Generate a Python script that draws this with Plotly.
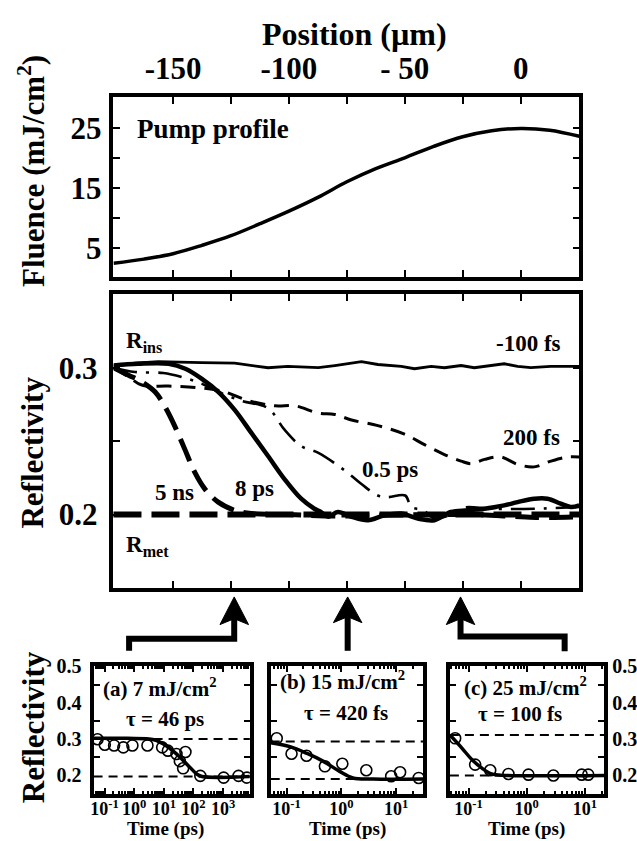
import math
import plotly.graph_objects as go

W, H = 637, 841
FONT = "Liberation Serif"

# ---------------- data ----------------
# top panel: pump profile
pos_pump = [-175.7, -162.5, -150, -137.5, -125, -112.5, -100, -87.5, -75, -62.5,
            -50, -37.5, -25, -12.5, 0, 12.5, 25.3]
fluence = [2.4, 3.1, 4.0, 5.4, 7.0, 9.0, 11.1, 13.4, 16.0, 18.2,
           20.0, 21.9, 23.5, 24.5, 24.9, 24.6, 23.6]

# middle panel: reflectivity profiles at several delays
pos_m100fs = [-175.7, -166.4, -156.4, -149.2, -137.7, -123.4, -109.0, -100.5, -87.3, -80.2,
              -73.0, -68.7, -61.6, -51.5, -45.8, -38.6, -32.9, -25.7, -20.0, -12.8,
              -7.1, -1.3, 4.4, 13.0, 25.3]
R_m100fs = [0.3010, 0.3031, 0.3042, 0.3038, 0.3035, 0.3031, 0.3000, 0.3009, 0.3000, 0.3015,
            0.3031, 0.3042, 0.3022, 0.3009, 0.2993, 0.3009, 0.3000, 0.3015, 0.3000, 0.3015,
            0.3027, 0.3009, 0.3000, 0.3009, 0.3009]

pos_200fs = [-175.7, -169.2, -163.5, -152.0, -140.5, -129.0, -117.6, -106.0, -97.4, -87.5,
             -80.2, -73.0, -61.6, -50.1, -41.5, -32.9, -25.7, -21.4, -15.6, -8.5,
             -1.3, 5.9, 13.0, 20.2, 25.3]
R_200fs = [0.3000, 0.2938, 0.2882, 0.2875, 0.2866, 0.2842, 0.2777, 0.2741, 0.2741, 0.2692,
           0.2682, 0.2644, 0.2606, 0.2548, 0.2476, 0.2409, 0.2364, 0.2347, 0.2376, 0.2392,
           0.2342, 0.2325, 0.2364, 0.2392, 0.2392]

pos_05ps = [-175.7, -166.4, -154.2, -146.3, -137.7, -130.5, -120.5, -109.0, -101.9, -94.7,
            -87.5, -75.7, -68.7, -61.6, -57.3, -49.8, -47.2, -42.0, -37.2, -30.0,
            -24.7, -12.8, 5.9, 25.3]
R_05ps = [0.3000, 0.2971, 0.2964, 0.2937, 0.2892, 0.2836, 0.2775, 0.2724, 0.2578, 0.2466,
          0.2422, 0.2298, 0.2208, 0.2130, 0.2119, 0.2130, 0.2052, 0.2030, 0.1975, 0.2000,
          0.2047, 0.2040, 0.2040, 0.2052]

pos_8ps = [-175.7, -165.0, -151.9, -144.7, -137.7, -130.5, -123.4, -116.2, -109.0, -101.9,
           -94.7, -89.0, -86.2, -83.0, -78.9, -73.0, -65.9, -58.7, -51.5, -44.4,
           -37.2, -30.1, -22.9, -15.7, -7.1, -1.3, 5.9, 11.6, 17.3, 21.6, 25.3]
R_8ps = [0.3015, 0.3027, 0.3027, 0.2993, 0.2926, 0.2836, 0.2713, 0.2556, 0.2399, 0.2242,
         0.2108, 0.2040, 0.2018, 0.1985, 0.2018, 0.1985, 0.1962, 0.1996, 0.2007, 0.1973,
         0.1962, 0.2018, 0.2029, 0.2040, 0.2063, 0.2085, 0.2108, 0.2108, 0.2074, 0.2052, 0.2063]

pos_5ns = [-175.7, -169.2, -163.5, -157.8, -153.5, -149.2, -144.9, -140.6, -136.3, -130.5,
           -123.4, -116.2, -100, -80, -60, -40, -20, 0, 10, 25.3]
R_5ns = [0.3000, 0.2949, 0.2904, 0.2836, 0.2735, 0.2601, 0.2444, 0.2287, 0.2175, 0.2085,
         0.2029, 0.2007, 0.2000, 0.1990, 0.1995, 0.2000, 0.2000, 0.1985, 0.1980, 0.1985]

R_met = 0.200

# bottom panels: time traces
t_a = [0.058, 0.102, 0.21, 0.43, 0.87, 2.8, 8.8, 13.7, 26.7, 53.5, 34.7, 44.7, 170, 1040, 3300, 6300]
R_a = [0.2995, 0.2843, 0.2824, 0.277, 0.2824, 0.2824, 0.277, 0.268, 0.259, 0.2643,
       0.2392, 0.2195, 0.1986, 0.194, 0.1986, 0.194]
tfit_a = [0.043, 0.59, 4.66, 13.0, 28.2, 61, 132, 194, 7900]
Rfit_a = [0.302, 0.302, 0.298, 0.2797, 0.2573, 0.2302, 0.2032, 0.1968, 0.1968]
ref_a = [0.300, 0.197]

t_b = [0.066, 0.123, 0.231, 0.50, 1.04, 2.85, 8.1, 11.8, 25.8]
R_b = [0.302, 0.2595, 0.254, 0.225, 0.232, 0.214, 0.1977, 0.2086, 0.193]
tfit_b = [0.051, 0.115, 0.231, 0.47, 0.93, 1.62, 3.8, 31]
Rfit_b = [0.290, 0.279, 0.261, 0.2386, 0.211, 0.193, 0.190, 0.190]
ref_b = [0.293, 0.190]

t_c = [0.059, 0.130, 0.236, 0.485, 1.07, 2.87, 8.8, 11.4]
R_c = [0.302, 0.2296, 0.214, 0.204, 0.202, 0.1997, 0.202, 0.202]
tfit_c = [0.048, 0.077, 0.115, 0.17, 0.25, 0.43, 21.5]
Rfit_c = [0.311, 0.275, 0.243, 0.220, 0.204, 0.200, 0.200]
ref_c = [0.311, 0.200]

pos_ticks = [-150, -125, -100, -75, -50, -25, 0]
pos_ticktext = ["-150", "", "-100", "", "- 50", "", "0"]
decades_a = [0.1, 1, 10, 100, 1000]
decades_bc = [0.1, 1, 10]

# ---------------- helpers ----------------
def PX(x):
    return x / W

def PY(y):
    return 1 - y / H

def decade_text(vals):
    return ["10<sup>%d</sup>" % int(round(math.log10(v))) for v in vals]

def minor_log(vals, lo, hi):
    out = []
    d = vals[0] / 10
    while d < hi * 10:
        for m in range(2, 10):
            v = d * m
            if lo <= v <= hi:
                out.append(v)
        d *= 10
    return out

fig = go.Figure()
blk = "black"

# top
fig.add_trace(go.Scatter(x=pos_pump, y=fluence, mode="lines",
                         line=dict(color=blk, width=3.5, shape="spline"),
                         xaxis="x", yaxis="y"))
# middle
fig.add_trace(go.Scatter(x=pos_m100fs, y=R_m100fs, mode="lines",
                         line=dict(color=blk, width=2.8), xaxis="x2", yaxis="y2"))
fig.add_trace(go.Scatter(x=pos_200fs, y=R_200fs, mode="lines",
                         line=dict(color=blk, width=3, dash="15px,9px", shape="spline"),
                         xaxis="x2", yaxis="y2"))
fig.add_trace(go.Scatter(x=pos_05ps, y=R_05ps, mode="lines",
                         line=dict(color=blk, width=2.6, dash="24px,9px,3px,9px", shape="spline"),
                         xaxis="x2", yaxis="y2"))
fig.add_trace(go.Scatter(x=pos_8ps, y=R_8ps, mode="lines",
                         line=dict(color=blk, width=4.5, shape="spline"),
                         xaxis="x2", yaxis="y2"))
fig.add_trace(go.Scatter(x=pos_5ns, y=R_5ns, mode="lines",
                         line=dict(color=blk, width=5, dash="24px,10px", shape="spline"),
                         xaxis="x2", yaxis="y2"))

# bottom
for (t, R, tf, Rf, xa, ya) in [(t_a, R_a, tfit_a, Rfit_a, "x3", "y3"),
                               (t_b, R_b, tfit_b, Rfit_b, "x4", "y4"),
                               (t_c, R_c, tfit_c, Rfit_c, "x5", "y5")]:
    fig.add_trace(go.Scatter(x=tf, y=Rf, mode="lines",
                             line=dict(color=blk, width=3.5, shape="spline"),
                             xaxis=xa, yaxis=ya))
    fig.add_trace(go.Scatter(x=t, y=R, mode="markers",
                             marker=dict(symbol="circle-open", size=11, color=blk,
                                         line=dict(width=1.6, color=blk)),
                             xaxis=xa, yaxis=ya))

tick_font = dict(family=FONT, size=31, color=blk, weight="bold")
common = dict(showline=True, linewidth=3.5, linecolor=blk, mirror="ticks",
              ticks="inside", tickwidth=2, ticklen=7, tickcolor=blk,
              showgrid=False, zeroline=False, tickfont=tick_font)

top_dom_x = [PX(111), PX(579)]
xr = [-175.7, 25.3]

layout = dict(
    width=W, height=H, margin=dict(l=0, r=0, t=0, b=0),
    paper_bgcolor="white", plot_bgcolor="white", showlegend=False,
    xaxis=dict(common, domain=top_dom_x, range=xr, side="top", anchor="y",
               tickmode="array", tickvals=pos_ticks, ticktext=pos_ticktext,
               ticklabelstandoff=2, tickangle=0),
    yaxis=dict(common, domain=[PY(270), PY(88)], range=[0.15, 30.15], anchor="x",
               tickmode="array", tickvals=[5, 10, 15, 20, 25],
               ticktext=["5", "", "15", "", "25"], ticklabelstandoff=2),
    xaxis2=dict(common, domain=top_dom_x, range=xr, anchor="y2",
                tickmode="array", tickvals=pos_ticks, showticklabels=False),
    yaxis2=dict(common, domain=[PY(585), PY(287.7)], range=[0.15, 0.35], anchor="x2",
                tickmode="array", tickvals=[0.2, 0.25, 0.3],
                ticktext=["0.2", "", "0.3"], ticklabelstandoff=6),
)

bfont = dict(family=FONT, size=18, color=blk, weight="bold")
yfont = dict(family=FONT, size=20, color=blk, weight="bold")
bottom_common = dict(showline=True, linewidth=4, linecolor=blk, mirror="ticks",
                     showgrid=False, zeroline=False, tickcolor=blk)
bottom = [("xaxis3", "yaxis3", "x3", "y3", [91, 248], [-1.37, 3.9], decades_a),
          ("xaxis4", "yaxis4", "x4", "y4", [269, 422], [-1.29, 1.49], decades_bc),
          ("xaxis5", "yaxis5", "x5", "y5", [449, 604], [-1.32, 1.33], decades_bc)]
for i, (xk, yk, xa, ya, dom, rng, dec) in enumerate(bottom):
    lo, hi = 10 ** rng[0], 10 ** rng[1]
    layout[xk] = dict(bottom_common, type="log", domain=[PX(dom[0]), PX(dom[1])],
                      range=rng, anchor=ya, tickmode="array", tickvals=dec,
                      ticktext=decade_text(dec), ticks="inside", ticklen=6, tickwidth=2,
                      tickfont=bfont, ticklabelstandoff=-4, tickangle=0,
                      minor=dict(tickmode="array", tickvals=minor_log(dec, lo, hi),
                                 ticks="inside", ticklen=3, tickwidth=1.5, tickcolor=blk))
    layout[yk] = dict(bottom_common, domain=[PY(793), PY(663.5)], range=[0.15, 0.502],
                      anchor=xa, tickmode="array", tickvals=[0.2, 0.3, 0.4, 0.5],
                      ticks="", tickfont=yfont, showticklabels=(i != 1),
                      side="right" if i == 2 else "left",
                      ticklabelstandoff=(0 if i == 2 else 4),
                      minor=dict(tickmode="array", tickvals=[0.25, 0.35, 0.45],
                                 ticks="inside", ticklen=6, tickwidth=2, tickcolor=blk))

fig.update_layout(**layout)

shapes = []
# R_met reference line in middle panel
shapes.append(dict(type="line", xref="x2 domain", yref="y2", x0=0, x1=1, y0=R_met, y1=R_met,
                   line=dict(color=blk, width=6, dash="28px,10px"), layer="below"))
# dashed reference levels in bottom panels
for (refs, xa, ya) in [(ref_a, "x3", "y3"), (ref_b, "x4", "y4"), (ref_c, "x5", "y5")]:
    for r in refs:
        shapes.append(dict(type="line", xref=xa + " domain", yref=ya, x0=0, x1=1, y0=r, y1=r,
                           line=dict(color=blk, width=2, dash="9px,6px"), layer="below"))

# arrows (paper coordinates)
def path(pts, close=False):
    s = "M " + " L ".join("%.5f,%.5f" % (PX(x), PY(y)) for x, y in pts)
    return s + (" Z" if close else "")

arrow_lines = [[(126.7, 648.5), (126.7, 636.3), (232.3, 636.3), (232.3, 616)],
               [(346.3, 648.5), (346.3, 614)],
               [(564.3, 649), (564.3, 634), (459.7, 634), (459.7, 616)]]
arrow_heads = [[(218.0, 622), (232.3, 594), (246.7, 622), (232.3, 616)],
               [(332.0, 620), (346.3, 594), (360.6, 620), (346.3, 614)],
               [(445.4, 622), (459.7, 594), (474.0, 622), (459.7, 616)]]
for ln in arrow_lines:
    shapes.append(dict(type="path", xref="paper", yref="paper", path=path(ln),
                       line=dict(color=blk, width=6)))
for hd in arrow_heads:
    shapes.append(dict(type="path", xref="paper", yref="paper", path=path(hd, True),
                       fillcolor=blk, line=dict(color=blk, width=1)))
fig.update_layout(shapes=shapes)

def ann(text, x, y, size, xanchor="center", angle=0):
    return dict(text=text, x=PX(x), y=PY(y), xref="paper", yref="paper",
                xanchor=xanchor, yanchor="middle", showarrow=False, textangle=angle,
                font=dict(family=FONT, size=size, color=blk, weight="bold"))

anns = [
    ann("Position (µm)", 353, 24, 32),
    ann("Fluence (mJ/cm<sup>2</sup>)", 28, 163, 31, angle=-90),
    ann("Reflectivity", 30, 448, 31, angle=-90),
    ann("Reflectivity", 31, 726, 31, angle=-90),
    ann("Pump profile", 133, 120, 27, xanchor="left"),
    ann("R<sub>ins</sub>", 122, 336, 23, xanchor="left"),
    ann("R<sub>met</sub>", 122, 542, 23, xanchor="left"),
    ann("-100 fs", 527.5, 338, 23),
    ann("200 fs", 531, 433, 23),
    ann("0.5 ps", 388.5, 465, 23),
    ann("8 ps", 253, 484, 23),
    ann("5 ns", 172.5, 488, 23),
    ann("(a) 7 mJ/cm<sup>2</sup>", 157.5, 686, 21),
    ann("τ = 46 ps", 163, 718, 21),
    ann("(b) 15 mJ/cm<sup>2</sup>", 341, 679, 21),
    ann("τ = 420 fs", 345, 711, 21),
    ann("(c) 25 mJ/cm<sup>2</sup>", 524.5, 685, 21),
    ann("τ = 100 fs", 519, 712, 21),
    ann("Time (ps)", 163, 829, 19),
    ann("Time (ps)", 346, 829, 19),
    ann("Time (ps)", 526, 829, 19),
]
fig.update_layout(annotations=anns)

fig.write_html("out.html", config={"displayModeBar": False},
               post_script="document.body.style.margin='0';document.body.style.overflow='hidden';")
